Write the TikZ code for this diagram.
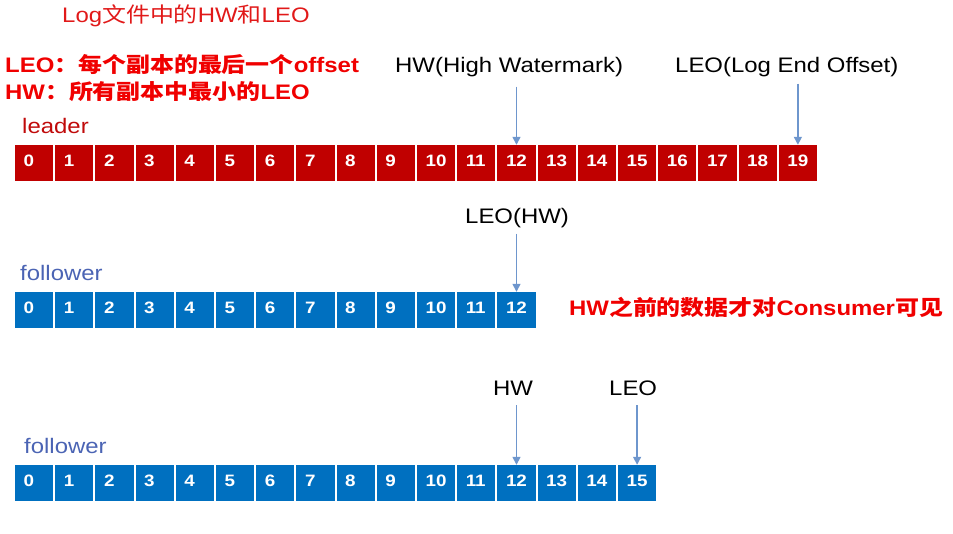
\documentclass[tikz,border=0pt]{standalone}
\usepackage{fontspec}
\setmainfont{Liberation Sans}[FakeStretch=1.14]
\newfontfamily\cjk{Noto Sans CJK SC}[FakeStretch=1.14]
\usetikzlibrary{arrows.meta}
\definecolor{cellred}{RGB}{192,0,0}
\definecolor{cellblue}{RGB}{0,112,192}
\definecolor{txtred}{RGB}{240,0,0}
\definecolor{titlered}{RGB}{225,25,25}
\definecolor{lblred}{RGB}{192,10,10}
\definecolor{lblblue}{RGB}{75,100,180}
\definecolor{arrblue}{RGB}{110,150,205}
\begin{document}
\begin{tikzpicture}[x=1pt,y=-1pt,
 cell/.style={minimum width=38.2pt,minimum height=36pt,inner xsep=0pt,inner ysep=0pt,
   text width=21pt,align=left,text height=13pt,text depth=7pt,
   font=\fontsize{16.5}{17}\selectfont\bfseries,text=white},
 lcell/.style={cell,fill=cellred},
 fcell/.style={cell,fill=cellblue},
 lbl/.style={inner sep=0pt,anchor=base west,font=\fontsize{21}{24}\selectfont},
 note/.style={lbl,text=txtred,font=\fontsize{21}{24}\selectfont\bfseries},
 arr/.style={draw=arrblue,line width=1.4pt,-{Triangle[length=8pt,width=8pt]}}]
\useasboundingbox (0,0) rectangle (953,533);
% rows of cells
\foreach \i in {0,...,19} \node[lcell] (l\i) at ({34.1+40.2*\i},163) {\i};
\foreach \i in {0,...,12} \node[fcell] (f\i) at ({34.1+40.2*\i},310) {\i};
\foreach \i in {0,...,15} \node[fcell] (g\i) at ({34.1+40.2*\i},483) {\i};
% texts
\node[lbl,text=titlered,font=\fontsize{21}{24}\selectfont] (title) at (62,22) {Log{\cjk 文件中的}HW{\cjk 和}LEO};
\node[note] (leo) at (5,72) {LEO{\cjk ：每个副本的最后一个}offset};
\node[note] (hw) at (5,99) {HW{\cjk ：所有副本中最小的}LEO};
\node[lbl,text=lblred] (leader) at (22,133) {leader};
\node[lbl] (hwt) at (395,72) {HW(High Watermark)};
\node[lbl] (leot) at (675,72) {LEO(Log End Offset)};
\node[lbl] (leohw) at (465,223) {LEO(HW)};
\node[lbl,text=lblblue] (fol1) at (20,280) {follower};
\node[note] (vis) at (569,315) {HW{\cjk 之前的数据才对}Consumer{\cjk 可见}};
\node[lbl] (hw2) at (493,395) {HW};
\node[lbl] (leo2) at (609,395) {LEO};
\node[lbl,text=lblblue] (fol2) at (24,453) {follower};
% arrows
\draw[arr] ([yshift=-10pt]hwt.south -| l12.north) -- (l12.north);
\draw[arr] ([yshift=-7pt]leot.south -| l19.north) -- (l19.north);
\draw[arr] ([yshift=-6pt]leohw.south -| f12.north) -- (f12.north);
\draw[arr] ([yshift=-10pt]hw2.south -| g12.north) -- (g12.north);
\draw[arr] ([yshift=-10pt]leo2.south -| g15.north) -- (g15.north);
\end{tikzpicture}
\end{document}
